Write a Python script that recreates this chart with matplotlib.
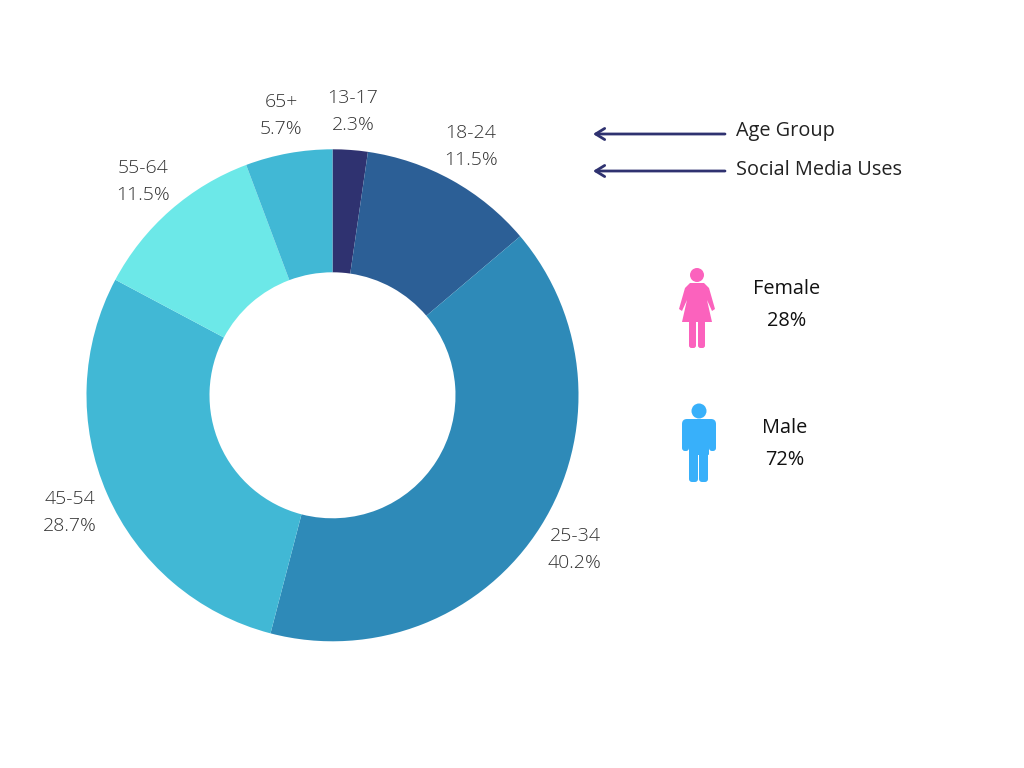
import matplotlib
matplotlib.use('Agg')
import matplotlib.pyplot as plt
from matplotlib.patches import Circle, Polygon, FancyBboxPatch

plt.rcParams['font.family'] = ['Open Sans', 'DejaVu Sans']

# Some data
ages = ['13-17', '18-24', '25-34', '45-54', '55-64', '65+']
uses = [2.3, 11.5, 40.2, 28.7, 11.5, 5.7]
gender = ['Female', 'Male']
gender_pct = [28, 72]
colors = ['#2f3270', '#2c5f96', '#2e8ab8', '#41b8d5', '#6ce8e8', '#41b8d5']
label_xy = [(353, 98), (471, 133), (575, 536), (70, 499), (143, 168), (281, 102)]


def Y(py):
    return 768 - py


def bar(ax, x0, y0, x1, y1, col, r=2.5):
    ax.add_patch(FancyBboxPatch((x0 + r, Y(y1) + r), x1 - x0 - 2 * r, y1 - y0 - 2 * r,
                                boxstyle='round,pad=%f' % r, fc=col, ec='none'))


fig = plt.figure(figsize=(10.24, 7.68), dpi=100)
ax = fig.add_axes([0, 0, 1, 1])

ax.pie(uses, colors=colors, startangle=90, counterclock=False, center=(332.5, Y(395.3)),
       radius=246, frame=True, wedgeprops=dict(width=123, linewidth=0))
ax.set_xlim(0, 1024)
ax.set_ylim(0, 768)
ax.axis('off')

for a, u, (px, py) in zip(ages, uses, label_xy):
    ax.text(px, Y(py), a, ha='center', va='center', fontsize=14, color='#333333', fontweight='light')
    ax.text(px, Y(py + 27), '%.1f%%' % u, ha='center', va='center', fontsize=14, color='#333333', fontweight='light')

# arrows
for py in [134, 171]:
    ax.annotate('', xy=(593, Y(py)), xytext=(725, Y(py)),
                arrowprops=dict(arrowstyle='->,head_length=0.65,head_width=0.4', color='#2f3270', lw=2,
                                shrinkA=0, shrinkB=0))
ax.text(736, Y(131), 'Age Group', ha='left', va='center', fontsize=14.3, color='#222222')
ax.text(736, Y(170), 'Social Media Uses', ha='left', va='center', fontsize=14.3, color='#222222')

# female icon
pink = '#fb62bd'
ax.add_patch(Circle((697, Y(275)), 7, fc=pink, ec='none'))
ax.add_patch(Polygon([(690, Y(283)), (704, Y(283)), (709, Y(288)), (715, Y(309)), (712, Y(311)),
                      (707, Y(300)), (712, Y(322)), (682, Y(322)), (687, Y(300)), (682, Y(311)),
                      (679, Y(309)), (685, Y(288))], closed=True, fc=pink, ec='none'))
bar(ax, 689, 320, 696, 348, pink)
bar(ax, 698, 320, 705, 348, pink)

# male icon
blue = '#38b0fa'
ax.add_patch(Circle((699, Y(411)), 7.5, fc=blue, ec='none'))
bar(ax, 682, 419, 716, 440, blue, r=5)
bar(ax, 682, 425, 689, 451, blue, r=3)
bar(ax, 709, 425, 716, 451, blue, r=3)
bar(ax, 689, 425, 709, 455, blue, r=1)
bar(ax, 689, 450, 698, 482, blue, r=3)
bar(ax, 699, 450, 708, 482, blue, r=3)

for name, pct, cx, py in zip(gender, gender_pct, [786.5, 785], [289, 428]):
    ax.text(cx, Y(py), name, ha='center', va='center', fontsize=14.3, color='#111111')
    ax.text(cx, Y(py + 32), '%d%%' % pct, ha='center', va='center', fontsize=14.3, color='#111111')

plt.savefig('out.png', dpi=100)
